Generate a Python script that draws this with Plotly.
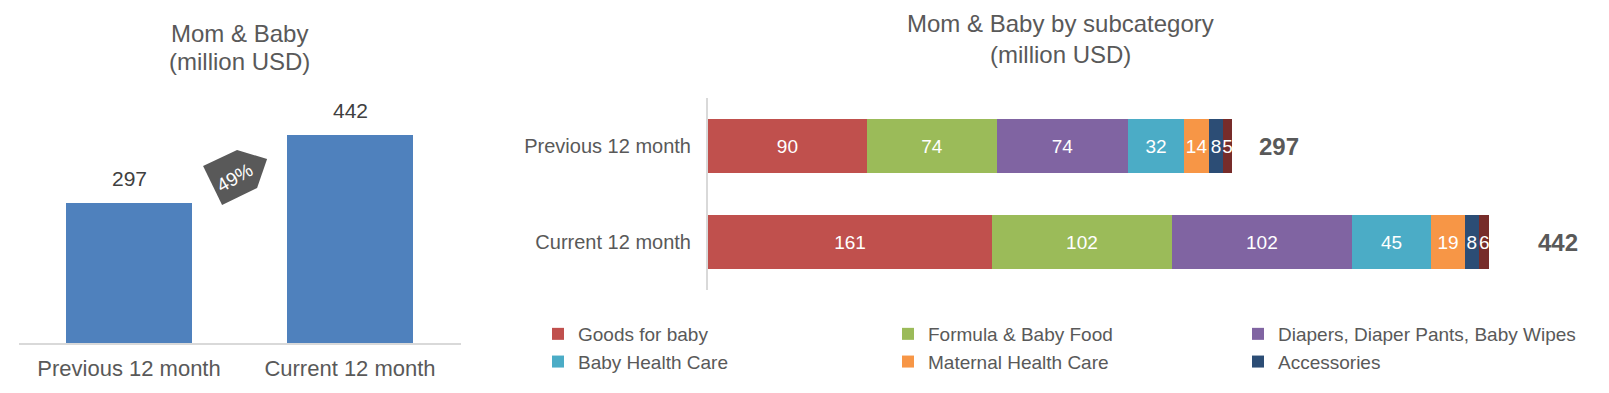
import plotly.graph_objects as go

# ---------------- data ----------------
periods = ["Previous 12 month", "Current 12 month"]
totals = [297, 442]

subcategories = ["Goods for baby", "Formula & Baby Food", "Diapers, Diaper Pants, Baby Wipes",
                 "Baby Health Care", "Maternal Health Care", "Accessories", "Others"]
goods_for_baby = [90, 161]
formula_baby_food = [74, 102]
diapers_wipes = [74, 102]
baby_health_care = [32, 45]
maternal_health_care = [14, 19]
accessories = [8, 8]
others = [5, 6]

series_values = [goods_for_baby, formula_baby_food, diapers_wipes, baby_health_care,
                 maternal_health_care, accessories, others]
series_colors = ["#C0504D", "#9BBB59", "#8064A2", "#4BACC6", "#F79646", "#2C4D75", "#772C2A"]
series_in_legend = [True, True, True, True, True, True, False]
# legend laid out in three columns, two rows (row-major order as in the reference)
series_legend = ["legend", "legend2", "legend3", "legend", "legend2", "legend3", "legend"]

# ---------------- layout helpers ----------------
W, H = 1609, 393
FONT = "Liberation Sans, Arial, sans-serif"
GREY = "#595959"


def px(x):
    return x / W


def py(y):
    return 1 - y / H


fig = go.Figure()

# ---------------- left chart: totals ----------------
fig.add_trace(go.Bar(
    x=periods, y=totals, marker=dict(color="#4F81BD", line=dict(width=0)),
    showlegend=False, xaxis="x", yaxis="y", hoverinfo="x+y",
))
for p, v in zip(periods, totals):
    fig.add_annotation(x=p, y=v, xref="x", yref="y", text=str(v), showarrow=False,
                       yanchor="bottom", yshift=11, font=dict(family=FONT, size=21, color="#404040"))

growth = round((totals[1] / totals[0] - 1) * 100)
badge_x, badge_y = 0.48, 350
fig.add_shape(type="path", xref="x", yref="y", xsizemode="pixel", ysizemode="pixel",
              xanchor=badge_x, yanchor=badge_y,
              path="M-32,12 L2,28 L32,19 L22,-10 L-13,-27 Z",
              fillcolor=GREY, line=dict(width=0), layer="above")
fig.add_annotation(x=badge_x, y=badge_y, xref="x", yref="y", text=f"{growth}%", showarrow=False,
                   textangle=-30, font=dict(family=FONT, size=19, color="white"))

# ---------------- right chart: stacked subcategories ----------------
for name, vals, col, leg, lg in zip(subcategories, series_values, series_colors,
                                    series_in_legend, series_legend):
    fig.add_trace(go.Bar(
        y=periods, x=vals, name=name, orientation="h",
        marker=dict(color=col, line=dict(width=0)),
        text=[str(v) for v in vals], textposition="inside", insidetextanchor="middle",
        textangle=0, constraintext="none",
        textfont=dict(family=FONT, size=19, color="white"),
        showlegend=leg, legend=lg, xaxis="x2", yaxis="y2", cliponaxis=False,
    ))

for p, t in zip(periods, totals):
    fig.add_annotation(x=t * 1.09, y=p, xref="x2", yref="y2", text=f"<b>{t}</b>", showarrow=False,
                       xanchor="center", font=dict(family=FONT, size=24, color=GREY))

# ---------------- titles ----------------
for txt, xc, yc in [("Mom & Baby", 239, 33), ("(million USD)", 239, 62),
                    ("Mom & Baby by subcategory", 1060, 24), ("(million USD)", 1060, 55)]:
    fig.add_annotation(x=px(xc), y=py(yc), xref="paper", yref="paper", text=txt, showarrow=False,
                       xanchor="center", yanchor="middle", font=dict(family=FONT, size=24, color=GREY))

legend_style = dict(orientation="v", yanchor="top", xanchor="left", traceorder="normal",
                    font=dict(family=FONT, size=19, color=GREY), bgcolor="rgba(0,0,0,0)",
                    tracegroupgap=0, itemwidth=30)

fig.update_layout(
    width=W, height=H, margin=dict(l=0, r=0, t=0, b=0),
    paper_bgcolor="white", plot_bgcolor="white",
    font=dict(family=FONT, color=GREY),
    barmode="stack", bargap=0.43,
    xaxis=dict(domain=[px(18.5), px(460.5)], type="category", range=[-0.5, 1.5],
               showline=True, linecolor="#D9D9D9", linewidth=2, ticks="", showgrid=False,
               zeroline=False, tickfont=dict(family=FONT, size=22, color=GREY),
               ticklabelstandoff=5, automargin=False),
    yaxis=dict(domain=[py(343), py(98)], range=[0, 519.6], visible=False),
    xaxis2=dict(domain=[px(708), 1.0], range=[0, (W - 708) / 1.764], visible=False, anchor="y2"),
    yaxis2=dict(domain=[py(290), py(98)], anchor="x2", type="category",
                categoryorder="array", categoryarray=periods[::-1], range=[-0.5, 1.5],
                showline=True, linecolor="#D9D9D9", linewidth=2, ticks="", showgrid=False,
                tickfont=dict(family=FONT, size=20, color=GREY), ticklabelstandoff=11,
                automargin=False),
    legend=dict(x=px(538), y=py(315), **legend_style),
    legend2=dict(x=px(888), y=py(315), **legend_style),
    legend3=dict(x=px(1238), y=py(315), **legend_style),
)

fig.write_html("out.html", config={"displayModeBar": False},
               post_script="document.body.style.margin='0';")
